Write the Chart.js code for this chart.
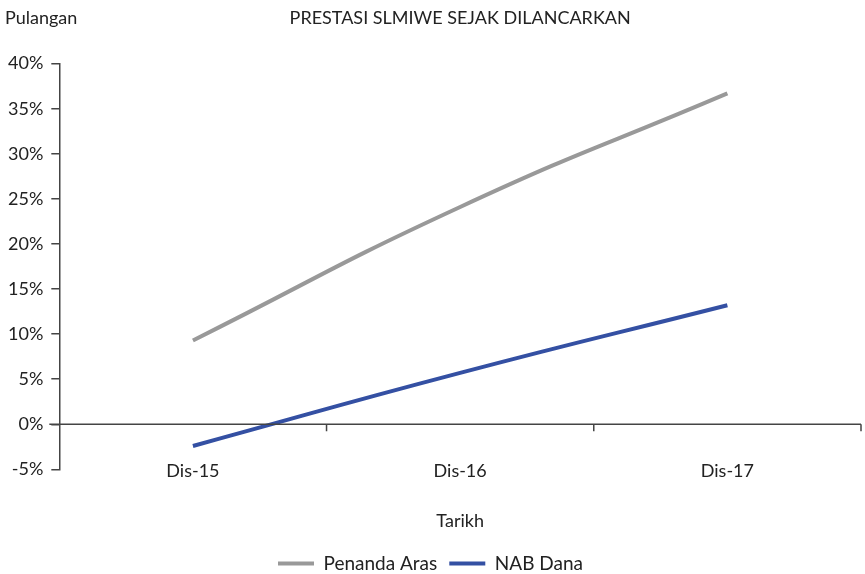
<!DOCTYPE html>
<html>
<head>
<meta charset="utf-8">
<script src="https://cdn.jsdelivr.net/npm/chart.js@4"></script>
<style>
  html, body { margin: 0; padding: 0; background: #fff; }
  #wrap { width: 865px; height: 574px; }
</style>
</head>
<body>
<div id="wrap"><canvas id="chart"></canvas></div>
<script>
// data
var categories = ['Dis-15', 'Dis-16', 'Dis-17'];
var penandaAras = [9.3, 24.1, 36.7];
var nabDana = [-2.4, 5.7, 13.2];
var yTicks = [-5, 0, 5, 10, 15, 20, 25, 30, 35, 40];

var FONT = 'Lato';
var SIZE = 18;
var TEXT = '#222222';
var AXIS = '#444444';

// label "Pulangan", garis paksi x di paras 0 dan label kategori
var extras = {
  id: 'extras',
  afterDraw: function(chart) {
    var ctx = chart.ctx;
    var x = chart.scales.x;
    var y = chart.scales.y;
    var area = chart.chartArea;
    var y0 = y.getPixelForValue(0);
    ctx.save();
    ctx.strokeStyle = AXIS;
    ctx.lineWidth = 1.5;
    ctx.beginPath();
    ctx.moveTo(area.left - 10, y0);
    ctx.lineTo(area.right, y0);
    // tanda sempadan kategori
    for (var i = 1; i <= categories.length; i++) {
      var px = x.getPixelForValue(i - 0.5);
      ctx.moveTo(px, y0);
      ctx.lineTo(px, y0 + 7);
    }
    ctx.stroke();
    ctx.fillStyle = TEXT;
    ctx.font = SIZE + 'px ' + FONT;
    ctx.textBaseline = 'alphabetic';
    ctx.textAlign = 'center';
    categories.forEach(function(c, i) {
      ctx.fillText(c, x.getPixelForValue(i), area.bottom + 8);
    });
    ctx.textBaseline = 'middle';
    ctx.textAlign = 'left';
    ctx.fillText('Pulangan', 5, chart.titleBlock.top + SIZE * 0.6);
    ctx.restore();
  }
};

new Chart(document.getElementById('chart'), {
  type: 'line',
  data: {
    labels: categories,
    datasets: [{
      label: 'Penanda Aras',
      data: penandaAras,
      borderColor: '#999999',
      backgroundColor: '#999999',
      borderWidth: 4,
      pointRadius: 0,
      tension: 0.5,
      fill: false
    }, {
      label: 'NAB Dana',
      data: nabDana,
      borderColor: '#3450a3',
      backgroundColor: '#3450a3',
      borderWidth: 4,
      pointRadius: 0,
      tension: 0.5,
      fill: false
    }]
  },
  options: {
    responsive: true,
    maintainAspectRatio: false,
    animation: false,
    layout: { padding: { left: 0, right: 4, top: 7, bottom: -9 } },
    plugins: {
      title: {
        display: true,
        text: 'PRESTASI SLMIWE SEJAK DILANCARKAN',
        fullSize: false,
        color: TEXT,
        font: { family: FONT, size: SIZE, weight: 'normal' },
        padding: { top: 0, bottom: 35 }
      },
      legend: {
        position: 'bottom',
        labels: {
          color: TEXT,
          font: { family: FONT, size: 19 },
          usePointStyle: true,
          pointStyle: 'line',
          pointStyleWidth: 36,
          boxHeight: 4,
          padding: 12
        }
      },
      tooltip: { enabled: false }
    },
    scales: {
      x: {
        offset: true,
        border: { display: false },
        grid: { display: false },
        ticks: { display: false },
        title: {
          display: true,
          text: 'Tarikh',
          color: TEXT,
          font: { family: FONT, size: SIZE },
          padding: { top: 33, bottom: 10 }
        }
      },
      y: {
        min: -5,
        max: 40,
        afterBuildTicks: function(scale) {
          scale.ticks = yTicks.map(function(v) { return { value: v }; });
        },
        border: { display: true, color: AXIS, width: 1.5 },
        grid: { drawOnChartArea: false, color: AXIS, tickLength: 8, lineWidth: 1.5 },
        ticks: {
          color: TEXT,
          font: { family: FONT, size: SIZE },
          padding: 8,
          callback: function(v) { return v + '%'; }
        }
      }
    }
  },
  plugins: [extras]
});
</script>
</body>
</html>
